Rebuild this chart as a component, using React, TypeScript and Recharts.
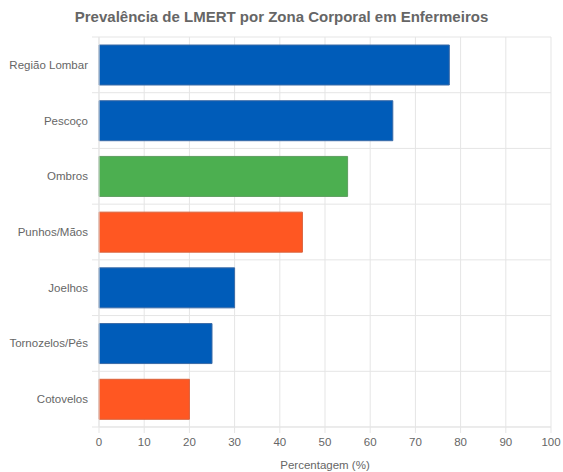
import { BarChart, Bar, XAxis, YAxis, CartesianGrid, Cell } from 'recharts'

const zonas = ['Região Lombar', 'Pescoço', 'Ombros', 'Punhos/Mãos', 'Joelhos', 'Tornozelos/Pés', 'Cotovelos']
const prevalencia = [77.5, 65, 55, 45, 30, 25, 20]
const coresBarra = ['#005cb9', '#005cb9', '#4caf50', '#ff5722', '#005cb9', '#005cb9', '#ff5722']
const bordasBarra = ['#3a6aa6', '#3a6aa6', '#5e9e60', '#d9603a', '#3a6aa6', '#3a6aa6', '#d9603a']
const ticksX = [0, 10, 20, 30, 40, 50, 60, 70, 80, 90, 100]

const data = zonas.map((zona, i) => ({ zona, valor: prevalencia[i] }))

const W = 563
const H = 472
const TOP = 37
const BOTTOM = 45
const LEFT = 99
const RIGHT = 12
const plotH = H - TOP - BOTTOM
const band = plotH / zonas.length

const gridColor = '#e5e5e5'
const textColor = '#666'
const font = '"Liberation Sans", Arial, sans-serif'
const small = 11.5

// rótulo do eixo Y + marca de grelha na fronteira da categoria
function ZonaTick(props: any) {
  const { x, y, payload } = props
  const yTop = y - band / 2
  const yBot = y + band / 2
  return (
    <g>
      <line x1={LEFT - 7} x2={LEFT} y1={yTop} y2={yTop} stroke={gridColor} />
      {payload.index === zonas.length - 1 && (
        <line x1={LEFT - 7} x2={LEFT} y1={yBot} y2={yBot} stroke={gridColor} />
      )}
      <text x={x} y={y} dy="0.35em" textAnchor="end" fill={textColor} fontSize={small} fontFamily={font}>
        {payload.value}
      </text>
    </g>
  )
}

export default function App() {
  return (
    <div style={{ position: 'absolute', left: 0, top: 0, width: W, height: H, background: '#fff' }}>
      <div style={{
        position: 'absolute', top: 7, left: 0, width: W, textAlign: 'center',
        fontFamily: font, fontWeight: 700, fontSize: 15, color: textColor, lineHeight: '20px',
      }}>
        Prevalência de LMERT por Zona Corporal em Enfermeiros
      </div>
      <BarChart
        width={W}
        height={H}
        data={data}
        layout="vertical"
        margin={{ top: TOP, right: RIGHT, bottom: 0, left: 0 }}
        barSize={40}
      >
        <CartesianGrid
          stroke={gridColor}
          horizontalCoordinatesGenerator={() => zonas.map((_, i) => TOP + i * band).concat([TOP + plotH])}
        />
        <XAxis
          type="number"
          domain={[0, 100]}
          ticks={ticksX}
          height={BOTTOM}
          axisLine={{ stroke: gridColor }}
          tickLine={{ stroke: gridColor }}
          tickSize={6}
          tickMargin={5}
          tick={{ fill: textColor, fontSize: small, fontFamily: font }}
          label={{ value: 'Percentagem (%)', position: 'insideBottom', offset: 3, fill: textColor, fontSize: small, fontFamily: font }}
        />
        <YAxis
          type="category"
          dataKey="zona"
          width={LEFT}
          axisLine={{ stroke: gridColor }}
          tickLine={false}
          tickSize={0}
          tickMargin={11}
          tick={<ZonaTick />}
        />
        <Bar dataKey="valor" isAnimationActive={false} strokeWidth={1}>
          {data.map((_, i) => (
            <Cell key={i} fill={coresBarra[i]} stroke={bordasBarra[i]} />
          ))}
        </Bar>
      </BarChart>
    </div>
  )
}
